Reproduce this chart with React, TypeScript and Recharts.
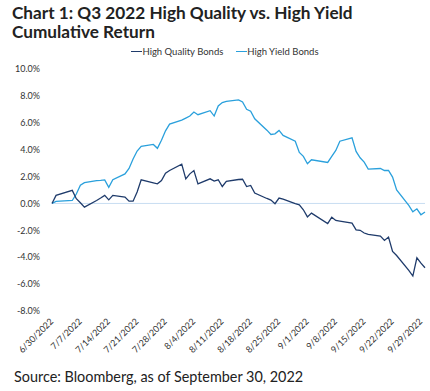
import React from "react";
import { LineChart, Line, XAxis, YAxis, ReferenceLine } from "recharts";

const dates = [
  "2022-06-30", "2022-07-01", "2022-07-05", "2022-07-06", "2022-07-07", "2022-07-08",
  "2022-07-11", "2022-07-12", "2022-07-13", "2022-07-14", "2022-07-15",
  "2022-07-18", "2022-07-19", "2022-07-20", "2022-07-21", "2022-07-22",
  "2022-07-25", "2022-07-26", "2022-07-27", "2022-07-28", "2022-07-29",
  "2022-08-01", "2022-08-02", "2022-08-03", "2022-08-04", "2022-08-05",
  "2022-08-08", "2022-08-09", "2022-08-10", "2022-08-11", "2022-08-12",
  "2022-08-15", "2022-08-16", "2022-08-17", "2022-08-18", "2022-08-19",
  "2022-08-22", "2022-08-23", "2022-08-24", "2022-08-25", "2022-08-26",
  "2022-08-29", "2022-08-30", "2022-08-31", "2022-09-01", "2022-09-02",
  "2022-09-06", "2022-09-07", "2022-09-08", "2022-09-09",
  "2022-09-12", "2022-09-13", "2022-09-14", "2022-09-15", "2022-09-16",
  "2022-09-19", "2022-09-20", "2022-09-21", "2022-09-22", "2022-09-23",
  "2022-09-26", "2022-09-27", "2022-09-28", "2022-09-29", "2022-09-30",
];

const highQuality = [
  0, 0.6, 0.97, 0.35, 0.05, -0.27,
  0.22, 0.4, 0.6, 0.27, 0.6,
  0.47, 0.17, 0.17, 0.85, 1.76,
  1.53, 1.46, 1.7, 2.25, 2.45,
  2.92, 1.83, 2.2, 2.45, 1.46,
  1.83, 1.66, 1.76, 1.26, 1.64,
  1.78, 1.8, 1.26, 1.34, 0.77,
  0.37, 0.25, -0.02, 0.4, 0.32,
  -0.02, -0.1, -0.47, -1.0, -0.72,
  -1.5, -1.02, -1.26, -1.31,
  -1.46, -1.96, -2.0, -2.2, -2.3,
  -2.43, -2.75, -2.5, -3.57, -3.87,
  -4.98, -5.4, -4.04, -4.44, -4.78,
];

const highYield = [
  0, 0.15, 0.22, 0.7, 1.35, 1.55,
  1.7, 1.72, 1.75, 1.2, 1.76,
  2.2, 2.6, 3.3, 3.9, 4.25,
  4.39, 4.1, 4.7, 5.4, 5.9,
  6.2, 6.35, 6.5, 6.8, 6.6,
  6.9, 6.5, 7.25, 7.5, 7.6,
  7.7, 7.55, 7.0, 6.86, 6.3,
  5.45, 5.13, 5.18, 5.43, 5.06,
  4.63, 3.8, 3.5, 2.95, 3.25,
  3.05, 3.5, 3.94, 4.63,
  4.88, 3.87, 3.4, 3.07, 2.55,
  2.6, 2.45, 2.45, 1.96, 1.0,
  -0.15, -0.62, -0.4, -0.84, -0.64,
];

const yTicks = [-8, -6, -4, -2, 0, 2, 4, 6, 8, 10];
const xTickDays = [0, 7, 14, 21, 28, 35, 42, 49, 56, 63, 70, 77, 84, 91];

const seriesNames = ["High Quality Bonds", "High Yield Bonds"];
const colors = ["#1f3b6b", "#2aa0dc"];

const DAY = 86400000;
const start = Date.UTC(2022, 5, 30);
const toDay = (s: string) => {
  const [y, m, d] = s.split("-").map(Number);
  return Math.round((Date.UTC(y, m - 1, d) - start) / DAY);
};
const dayLabel = (d: number) => {
  const dt = new Date(start + d * DAY);
  return `${dt.getUTCMonth() + 1}/${dt.getUTCDate()}/${dt.getUTCFullYear()}`;
};

const data = dates.map((s, i) => ({
  day: toDay(s),
  hq: highQuality[i],
  hy: highYield[i],
}));

const FONT = "Lato, 'Open Sans', sans-serif";

const XTick = (props: any) => {
  const { x, y, payload } = props;
  return (
    <text
      x={x + 2}
      y={y + 3}
      transform={`rotate(-45 ${x + 2} ${y + 3})`}
      textAnchor="end"
      fontSize={9}
      fontFamily={FONT}
      fill="#333"
    >
      {dayLabel(payload.value)}
    </text>
  );
};

export default function App() {
  return (
    <div
      style={{
        position: "absolute",
        left: 0,
        top: 0,
        width: 430,
        height: 391,
        background: "#fff",
        fontFamily: FONT,
      }}
    >
      <div
        style={{
          position: "absolute",
          left: 12,
          top: 3,
          fontSize: 17.2,
          fontWeight: 700,
          lineHeight: "19px",
          color: "#222",
        }}
      >
        <div>Chart 1: Q3 2022 High Quality vs. High Yield</div>
        <div style={{ marginTop: 0 }}>Cumulative Return</div>
      </div>
      <div
        style={{
          position: "absolute",
          left: 0,
          top: 46,
          width: 430,
          display: "flex",
          justifyContent: "center",
          paddingLeft: 20,
          boxSizing: "border-box",
          fontSize: 9.5,
          color: "#333",
        }}
      >
        {seriesNames.map((n, i) => (
          <div
            key={n}
            style={{ display: "flex", alignItems: "center", marginRight: i === 0 ? 13 : 0 }}
          >
            <span
              style={{
                display: "inline-block",
                width: 11,
                height: 1.5,
                background: colors[i],
              }}
            />
            <span>{n}</span>
          </div>
        ))}
      </div>
      <div style={{ position: "absolute", left: 0, top: 0 }}>
        <LineChart
          width={430}
          height={391}
          data={data}
          margin={{ top: 69, right: 5, bottom: 30, left: 12 }}
        >
          <XAxis
            dataKey="day"
            type="number"
            domain={[0, 92]}
            ticks={xTickDays}
            interval={0}
            axisLine={false}
            tickLine={false}
            height={50}
            tick={<XTick />}
          />
          <YAxis
            type="number"
            domain={[-8, 10]}
            ticks={yTicks}
            interval={0}
            width={40}
            axisLine={false}
            tickLine={false}
            tickMargin={6}
            tick={{ fontSize: 9, fontFamily: FONT, fill: "#333" }}
            tickFormatter={(v: number) => `${v.toFixed(1)}%`}
          />
          <ReferenceLine y={0} stroke="#c8def2" strokeWidth={1} />
          <Line
            type="linear"
            dataKey="hy"
            stroke={colors[1]}
            strokeWidth={1.3}
            dot={false}
            isAnimationActive={false}
          />
          <Line
            type="linear"
            dataKey="hq"
            stroke={colors[0]}
            strokeWidth={1.3}
            dot={false}
            isAnimationActive={false}
          />
        </LineChart>
      </div>
      <div
        style={{
          position: "absolute",
          left: 14,
          top: 368,
          fontSize: 14.4,
          color: "#222",
        }}
      >
        Source: Bloomberg, as of September 30, 2022
      </div>
    </div>
  );
}
